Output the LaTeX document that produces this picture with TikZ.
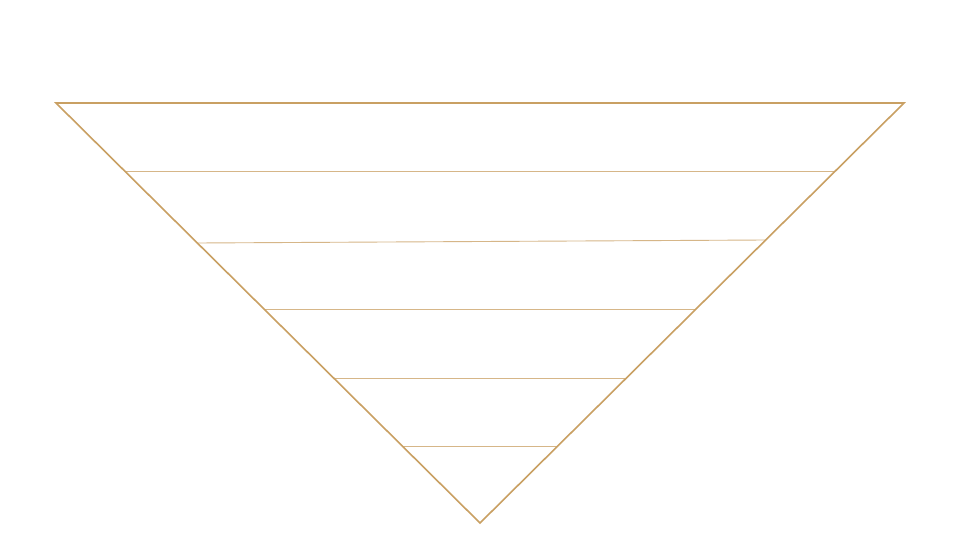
\documentclass[tikz,border=0pt]{standalone}
\usetikzlibrary{calc}
\begin{document}
\begin{tikzpicture}[x=1pt,y=-1pt,
  tri/.style={draw=gold, line width=1.6pt, line join=miter},
  band/.style={draw=goldlight, line width=0.9pt}]
\definecolor{gold}{HTML}{C9A063}
\definecolor{goldlight}{HTML}{D6B688}
\useasboundingbox[fill=white] (0,0) rectangle (960,540);
\coordinate (TL) at (56,103);
\coordinate (TR) at (904,103);
\coordinate (B) at (480,523);
\foreach \n/\yl/\yr in {1/171/171,2/243/240,3/309/309,4/378/378,5/446/446}{
  \coordinate (L\n) at ($(TL)!{(\yl-103)/420}!(B)$);
  \coordinate (R\n) at ($(TR)!{(\yr-103)/420}!(B)$);
  \draw[band] (L\n) -- (R\n);
}
\draw[tri] (TL) -- (TR) -- (B) -- cycle;
\end{tikzpicture}
\end{document}
